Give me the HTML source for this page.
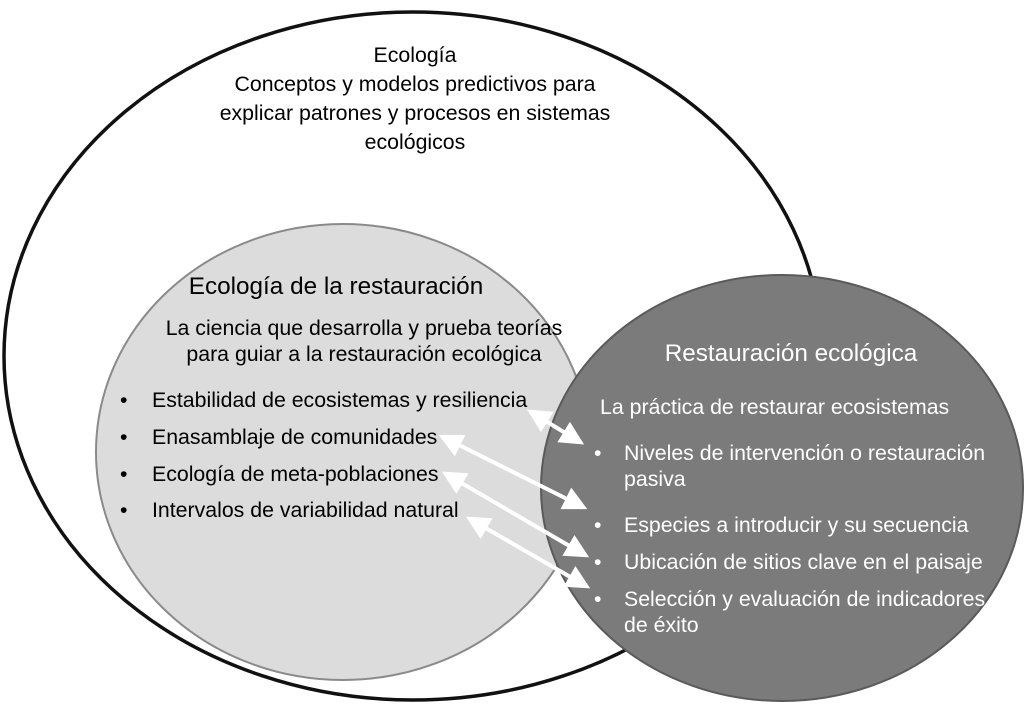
<!DOCTYPE html>
<html><head><meta charset="utf-8"><style>
body{margin:0;background:#fff}
svg{display:block}
text{font-family:"Liberation Sans",Arial,sans-serif;font-size:21.3px}
text.h{font-size:24.3px}
</style></head><body>
<svg width="1024" height="705" viewBox="0 0 1024 705">
<defs>
<marker id="a" viewBox="0 0 10 10" refX="8" refY="5" markerWidth="6" markerHeight="6" orient="auto-start-reverse" markerUnits="strokeWidth"><path d="M0,0L10,5L0,10z" fill="#fff"/></marker>
</defs>
<ellipse cx="413" cy="356" rx="409" ry="344" fill="#fff" stroke="#111" stroke-width="3.5"/>
<ellipse cx="343" cy="452" rx="247" ry="228" fill="#dcdcdc" stroke="#8a8a8a" stroke-width="2"/>
<ellipse cx="782" cy="488" rx="241" ry="213" fill="#7b7b7b" stroke="#5a5a5a" stroke-width="2"/>
<g text-anchor="middle" fill="#000">
<text x="415" y="62">Ecología</text>
<text x="415" y="91">Conceptos y modelos predictivos para</text>
<text x="415" y="120">explicar patrones y procesos en sistemas</text>
<text x="415" y="149">ecológicos</text>
<text class="h" x="336" y="294">Ecología de la restauración</text>
<text x="364" y="335">La ciencia que desarrolla y prueba teorías</text>
<text x="364" y="361">para guiar a la restauración ecológica</text>
</g>
<g fill="#000">
<text x="120" y="407">•</text><text x="152" y="407">Estabilidad de ecosistemas y resiliencia</text>
<text x="120" y="444">•</text><text x="152" y="444">Enasamblaje de comunidades</text>
<text x="120" y="481">•</text><text x="152" y="481">Ecología de meta-poblaciones</text>
<text x="120" y="517">•</text><text x="152" y="517">Intervalos de variabilidad natural</text>
</g>
<g fill="#fff">
<text class="h" x="791" y="361" text-anchor="middle">Restauración ecológica</text>
<text x="600" y="414">La práctica de restaurar ecosistemas</text>
<text x="594" y="460">•</text><text x="624" y="460">Niveles de intervención o restauración</text>
<text x="624" y="486">pasiva</text>
<text x="594" y="532">•</text><text x="624" y="532">Especies a introducir y su secuencia</text>
<text x="594" y="569">•</text><text x="624" y="569">Ubicación de sitios clave en el paisaje</text>
<text x="594" y="606">•</text><text x="624" y="606">Selección y evaluación de indicadores</text>
<text x="624" y="632">de éxito</text>
</g>
<g stroke="#fff" stroke-width="4" marker-start="url(#a)" marker-end="url(#a)">
<line x1="531" y1="412" x2="580" y2="442"/>
<line x1="443" y1="437" x2="583" y2="507"/>
<line x1="446" y1="474" x2="585" y2="555"/>
<line x1="470" y1="519" x2="586" y2="586"/>
</g>
</svg>
</body></html>
